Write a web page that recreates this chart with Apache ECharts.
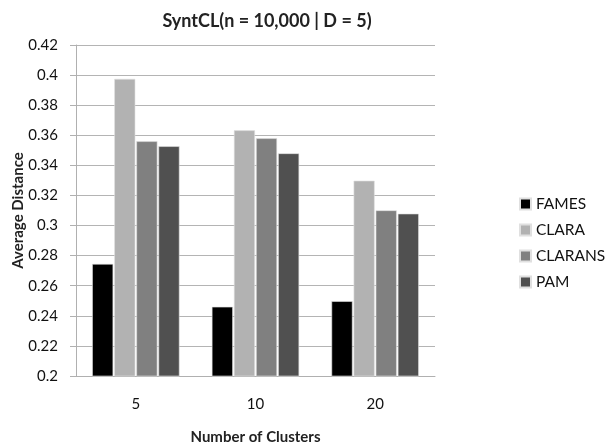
<!DOCTYPE html>
<html>
<head>
<meta charset="utf-8">
<script src="https://cdn.jsdelivr.net/npm/echarts@6/dist/echarts.min.js"></script>
<style>
  html, body { margin: 0; padding: 0; background: #fff; }
  #chart { width: 606px; height: 445px; }
</style>
</head>
<body>
<div id="chart"></div>
<script>
// Average distance per clustering method, SyntCL data set
const categories = ['5', '10', '20'];
const fames   = [0.2745, 0.246, 0.2497];
const clara   = [0.3975, 0.3633, 0.3298];
const clarans = [0.356, 0.358, 0.3101];
const pam     = [0.3527, 0.348, 0.3079];
const yTicks  = { min: 0.2, max: 0.42, step: 0.02 };

const FONT = 'Lato, "Open Sans", sans-serif';
const seriesDefs = [
  { name: 'FAMES',   data: fames,   color: '#000000' },
  { name: 'CLARA',   data: clara,   color: '#b2b2b2' },
  { name: 'CLARANS', data: clarans, color: '#808080' },
  { name: 'PAM',     data: pam,     color: '#505050' }
];

const chart = echarts.init(document.getElementById('chart'), null, { renderer: 'canvas' });
chart.setOption({
  animation: false,
  backgroundColor: '#ffffff',
  title: {
    text: 'SyntCL(n = 10,000 | D = 5)',
    left: 262, top: 7, textAlign: 'center',
    textStyle: { fontFamily: FONT, fontWeight: 'bold', fontSize: 18, color: '#222' }
  },
  legend: {
    orient: 'vertical', left: 514, top: 191,
    itemWidth: 11, itemHeight: 11, itemGap: 10,
    icon: 'rect',
    textStyle: { fontFamily: FONT, fontSize: 15.5, color: '#111', padding: [0, 0, 0, 0] },
    data: seriesDefs.map(s => s.name)
  },
  grid: { left: 76, right: 171, top: 45, bottom: 69, outerBoundsMode: 'none', containLabel: false },
  xAxis: {
    type: 'category', data: categories,
    name: 'Number of Clusters', nameLocation: 'middle', nameGap: 54, nameMoveOverlap: false,
    nameTextStyle: { fontFamily: FONT, fontWeight: 'bold', fontSize: 15, color: '#222' },
    axisLine: { lineStyle: { color: '#b0b0b0', width: 1 } },
    axisTick: { show: false },
    axisLabel: { fontFamily: FONT, fontSize: 15, color: '#111', margin: 21 }
  },
  yAxis: {
    type: 'value', min: yTicks.min, max: yTicks.max, interval: yTicks.step,
    name: 'Average Distance', nameLocation: 'middle', nameGap: 50, nameMoveOverlap: false,
    nameTextStyle: { fontFamily: FONT, fontWeight: 'bold', fontSize: 15, color: '#222' },
    axisLine: { show: true, lineStyle: { color: '#b0b0b0', width: 1 } },
    axisTick: { show: true, length: 6, lineStyle: { color: '#b0b0b0' } },
    splitLine: { lineStyle: { color: '#b4b4b4', width: 1 } },
    axisLabel: {
      fontFamily: FONT, fontSize: 15, color: '#111', margin: 18,
      formatter: v => String(parseFloat(v.toFixed(2)))
    }
  },
  series: seriesDefs.map(s => ({
    type: 'bar', name: s.name, data: s.data,
    barGap: '5%', barCategoryGap: '27%',
    itemStyle: { color: s.color, borderColor: '#e0e0e0', borderWidth: 0.6 }
  }))
});
</script>
</body>
</html>
